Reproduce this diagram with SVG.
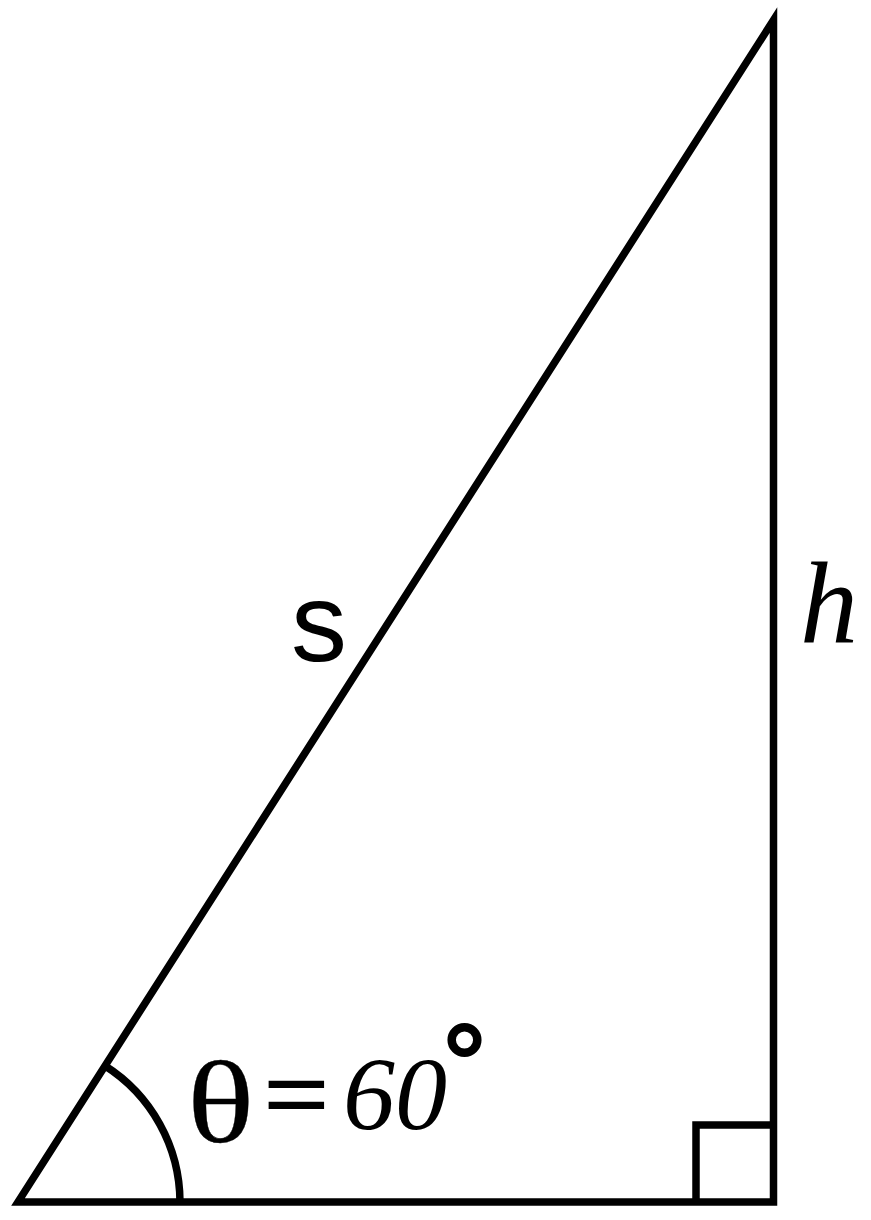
<svg xmlns="http://www.w3.org/2000/svg" width="871" height="1220" viewBox="0 0 871 1220">
<style>
.ln{fill:none;stroke:#000;stroke-width:7.5;stroke-linejoin:miter;stroke-miterlimit:10}
.serif{font-family:"Liberation Serif","Times New Roman",serif;fill:#000}
.sans{font-family:"Liberation Sans",Arial,sans-serif;fill:#000}
</style>
<rect width="871" height="1220" fill="#fff"/>
<g id="triangle">
<polygon class="ln" points="18,1202 773.5,1202 773.5,20"/>
</g>
<g id="right-angle">
<polyline class="ln" points="696,1202 696,1125 773.5,1125"/>
</g>
<g id="angle-arc">
<path class="ln" d="M104.5,1065.5 A162,162 0 0 1 180,1202"/>
</g>
<g id="label-s">
<text class="sans" x="291" y="661" font-size="112">s</text>
</g>
<g id="label-h">
<text class="serif" x="800" y="642" font-size="116" font-style="italic">h</text>
</g>
<g id="label-theta">
<text class="serif" transform="translate(187,1142) scale(1.2,1)" x="0" y="0" font-size="117" stroke="#000" stroke-width="0.3">θ</text>
<text class="serif" transform="translate(264,1130) scale(1.08,1)" x="0" y="0" font-size="106" stroke="#000" stroke-width="2">=</text>
<text class="serif" x="343" y="1129" font-size="104" font-style="italic">60</text>
<circle cx="464.5" cy="1040" r="12.8" fill="none" stroke="#000" stroke-width="8.5"/>
</g>
</svg>
